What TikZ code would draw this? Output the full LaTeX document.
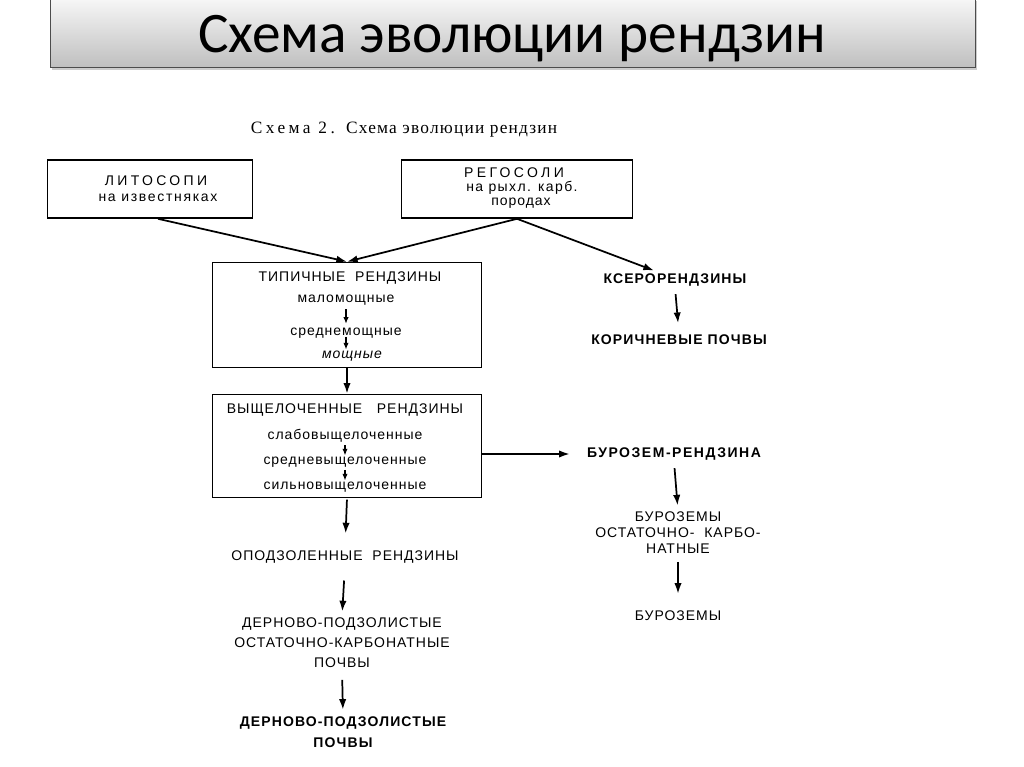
\documentclass[tikz,border=0pt]{standalone}
\usepackage{fontspec}
\setmainfont{Liberation Sans}
\newfontfamily\titlefont{Carlito}
\newfontfamily\capfont{Liberation Serif}
\usetikzlibrary{arrows.meta}

\tikzset{
  lbl/.style={inner sep=0.75pt, font=\fontsize{10.5}{12}\selectfont\addfontfeature{LetterSpace=7}},
  blbl/.style={lbl, font=\fontsize{10.5}{12}\selectfont\bfseries\addfontfeature{LetterSpace=8}},
  frame/.style={draw, line width=1.2pt, inner sep=0pt},
  flow/.style={-{Latex[length=8pt,width=5.5pt]}, line width=1.3pt},
  tick/.style={-{Latex[length=5pt,width=4pt]}, line width=1pt},
}

\begin{document}
\begin{tikzpicture}[x=0.75pt,y=0.75pt,yscale=-1,xscale=1]
\useasboundingbox (0,0) rectangle (1024,767);

%Title bar
\fill [black!20] (52,1) rectangle (977,70);
\draw [top color=black!3, bottom color=black!25, draw=black!70, line width=0.6pt] (50,-2) rectangle (975,67);
\node (title) at (512,53) [anchor=base, inner sep=0pt] {\titlefont\fontsize{43}{48}\selectfont Схема эволюции рендзин};

% Text Node
\node (caption) at (404,130) [inner sep=0.75pt] {\capfont\fontsize{13}{15}\selectfont \addfontfeature{LetterSpace=20}Схема 2.\addfontfeature{LetterSpace=7}\ \ Схема эволюции рендзин};

%Shape: Rectangle
\node (lito) at (150,189) [frame, minimum width=153.75pt, minimum height=43.5pt] {};
\node (rego) at (517,189) [frame, minimum width=173.25pt, minimum height=43.5pt] {};
\node (typ) at (347,315) [frame, minimum width=201.75pt, minimum height=78.75pt] {};
\node (leach) at (347,446) [frame, minimum width=201.75pt, minimum height=77.25pt] {};

% Text Node
\node (litoA) at (156,181) [lbl] {\addfontfeature{LetterSpace=24}ЛИТОСОПИ};
\node (litoB) at (158,198) [lbl] {\addfontfeature{LetterSpace=12}на известняках};
\node (regoA) at (514,173) [lbl] {\addfontfeature{LetterSpace=24}РЕГОСОЛИ};
\node (regoB) at (522,188) [lbl] {\addfontfeature{LetterSpace=10}на рыхл. карб.};
\node (regoC) at (521,203) [lbl] {породах};

% Text Node
\node (typA) at (350,278) [lbl] {ТИПИЧНЫЕ\ \ РЕНДЗИНЫ};
\node (typB) at (346,300) [lbl] {маломощные};
\node (typC) at (346,333) [lbl] {среднемощные};
\node (typD) at (352,356) [lbl] {\itshape мощные};

% Text Node
\node (leachA) at (345,410) [lbl] {ВЫЩЕЛОЧЕННЫЕ\ \ \ РЕНДЗИНЫ};
\node (leachB) at (345,436) [lbl] {слабовыщелоченные};
\node (leachC) at (345,462) [lbl] {средневыщелоченные};
\node (leachD) at (345,487) [lbl] {сильновыщелоченные};

% Text Node
\node (opod) at (345,557) [lbl] {ОПОДЗОЛЕННЫЕ\ \ РЕНДЗИНЫ};
\node (dpA) at (342,643) [lbl, align=center, font=\fontsize{10.5}{15}\selectfont\addfontfeature{LetterSpace=7}] {ДЕРНОВО-ПОДЗОЛИСТЫЕ\\ОСТАТОЧНО-КАРБОНАТНЫЕ\\ПОЧВЫ};
\node (dpB) at (343,732) [blbl, align=center, font=\fontsize{10.5}{16}\selectfont\bfseries\addfontfeature{LetterSpace=8}] {ДЕРНОВО-ПОДЗОЛИСТЫЕ\\ПОЧВЫ};

% Text Node
\node (xero) at (675,280) [blbl] {КСЕРОРЕНДЗИНЫ};
\node (korich) at (679,340) [blbl] {КОРИЧНЕВЫЕ ПОЧВЫ};
\node (burr) at (674,454) [blbl] {\addfontfeature{LetterSpace=11}БУРОЗЕМ-РЕНДЗИНА};
\node (burk) at (678,533) [lbl, align=center, font=\fontsize{10.5}{12}\selectfont\addfontfeature{LetterSpace=7}] {БУРОЗЕМЫ\\ОСТАТОЧНО-\ \ КАРБО-\\НАТНЫЕ};
\node (burz) at (678,616) [lbl] {БУРОЗЕМЫ};

%Straight Lines
\draw [flow] ([xshift=6pt]lito.south) -- (typ.north);
\draw [flow] (rego.south) -- (typ.north);
\draw [flow, shorten >=4pt] (rego.south) -- ([xshift=-12pt]xero.north);
\draw [flow] (typ.south) -- (leach.north);
\draw [flow, shorten >=12pt] (leach.east |- burr.west) -- (burr.west);
\draw [flow, shorten >=12pt, shorten <=1pt] (leach.south) -- (opod.north);
\draw [flow, shorten <=12pt, shorten >=4pt] (opod.south) -- (dpA.north);
\draw [flow, shorten <=8pt, shorten >=4pt] (dpA.south) -- (dpB.north);
\draw [flow, shorten <=5pt, shorten >=8pt] (xero.south) -- (korich.north);
\draw [flow, shorten <=5pt, shorten >=4pt] (burr.south) -- (burk.north);
\draw [flow, shorten <=5pt, shorten >=12pt] (burk.south) -- (burz.north);

%Small arrows inside the boxes
\draw [tick, shorten <=2pt, shorten >=2pt] (typB.south) -- (typC.north);
\draw [tick, shorten <=-2pt] (typC.south) -- (typC.south |- typD.north);
\draw [tick, shorten <=1pt] (leachB.south) -- (leachC.north);
\draw [tick, shorten <=1pt] (leachC.south) -- (leachD.north);

\end{tikzpicture}
\end{document}
